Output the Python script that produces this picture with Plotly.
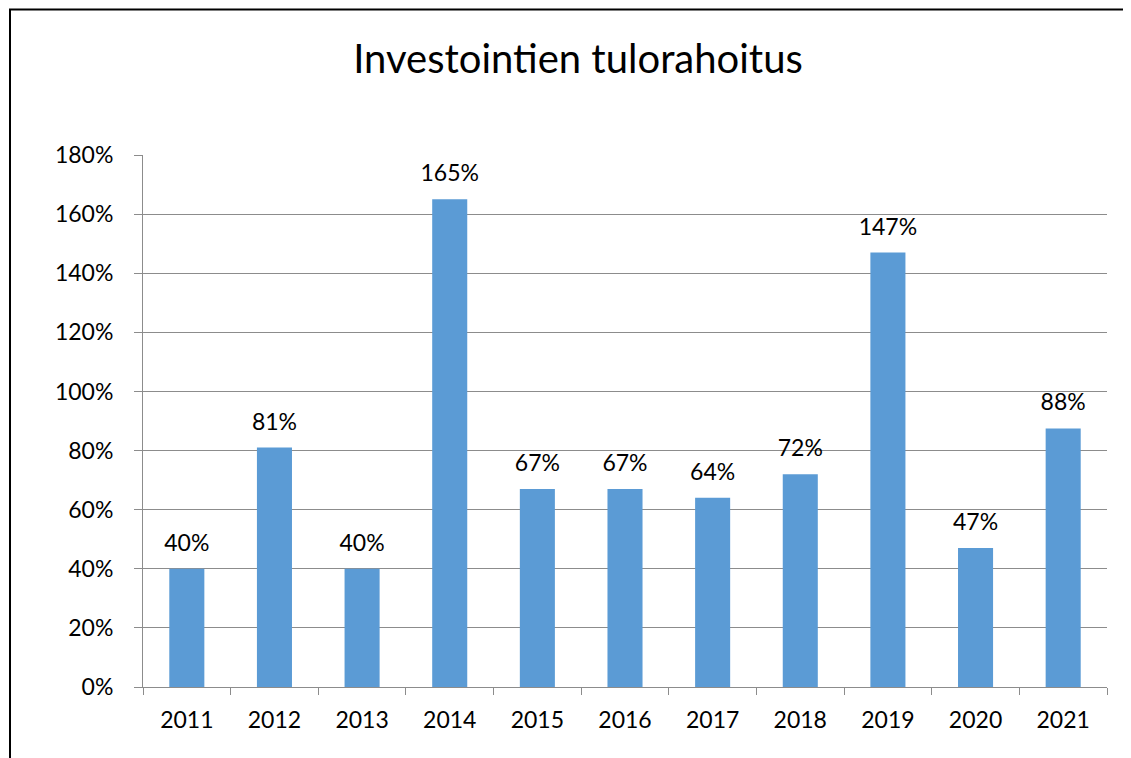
import plotly.graph_objects as go

YEARS = ["2011", "2012", "2013", "2014", "2015", "2016", "2017", "2018", "2019", "2020", "2021"]
SHARE = [0.40, 0.81, 0.40, 1.65, 0.67, 0.67, 0.64, 0.72, 1.47, 0.47, 0.875]
TITLE = "Investointien tulorahoitus"

# page body has an 8px margin, so the figure is sized and placed to compensate
OFF = 8
W, H = 1131 - OFF, 758 - OFF
L, R, T, B = 143 - OFF, 24, 155 - OFF, 71
PW, PH = W - L - R, H - T - B

FONT = "Lato, Calibri, Carlito, sans-serif"
GRID = "#8c8c8c"

fig = go.Figure()
fig.add_trace(
    go.Bar(
        x=YEARS,
        y=SHARE,
        marker={"color": "#5b9bd5", "line": {"width": 0}},
        hovertemplate="%{x}: %{y:.0%}<extra></extra>",
    )
)
# value labels: invisible markers push the text up off the bar tops
fig.add_trace(
    go.Scatter(
        x=YEARS,
        y=SHARE,
        mode="markers+text",
        text=[f"{v:.0%}" for v in SHARE],
        textposition="top center",
        textfont={"size": 23, "family": FONT, "color": "#000000"},
        marker={"size": 18, "color": "rgba(0,0,0,0)"},
        cliponaxis=False,
        hoverinfo="skip",
    )
)

fig.update_layout(
    width=W,
    height=H,
    margin={"l": L, "r": R, "t": T, "b": B, "pad": 0},
    paper_bgcolor="white",
    plot_bgcolor="white",
    font={"family": FONT, "size": 23, "color": "#000000"},
    showlegend=False,
    bargap=0.6,
    title={
        "text": TITLE,
        "x": (578 - 143) / PW,
        "xref": "paper",
        "xanchor": "center",
        "y": 1 - (59 - OFF) / H,
        "yref": "container",
        "yanchor": "middle",
        "font": {"size": 40, "family": FONT, "color": "#000000"},
    },
    xaxis={
        "type": "category",
        "range": [-0.5, len(YEARS) - 0.5],
        "automargin": False,
        "tickangle": 0,
        "showline": True,
        "linecolor": GRID,
        "linewidth": 1,
        "ticks": "outside",
        "tickson": "boundaries",
        "ticklen": 7,
        "tickcolor": GRID,
        "showgrid": False,
        "tickfont": {"size": 23},
        "ticklabelstandoff": 12,
    },
    yaxis={
        "range": [0, 1.8],
        "dtick": 0.2,
        "tickformat": ".0%",
        "automargin": False,
        "showline": True,
        "linecolor": GRID,
        "linewidth": 1,
        "ticks": "outside",
        "ticklen": 8,
        "tickcolor": GRID,
        "showgrid": True,
        "gridcolor": GRID,
        "gridwidth": 1,
        "zeroline": False,
        "tickfont": {"size": 23},
        "ticklabelstandoff": 16,
    },
    shapes=[
        {
            "type": "rect",
            "xref": "paper",
            "yref": "paper",
            "x0": (10 - 143) / PW,
            "x1": 1.2,
            "y0": -0.3,
            "y1": 1 + (155 - 9.5) / PH,
            "line": {"color": "#000000", "width": 2},
            "fillcolor": "rgba(0,0,0,0)",
            "layer": "above",
        }
    ],
)

fig.write_html("out.html")
